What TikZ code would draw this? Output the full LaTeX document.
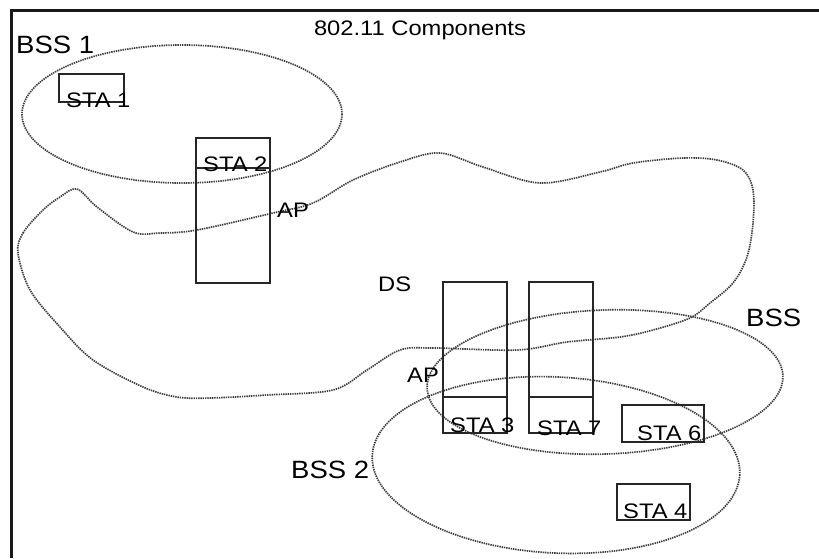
\documentclass[tikz,border=0pt]{standalone}
\usepackage{fontspec}
\setmainfont{Liberation Sans}
\newcommand\widetext[2]{\scalebox{#1}[1]{#2}}
\tikzset{
  frameline/.style={line width=3pt, black!90},
  stabox/.style={line width=1.4pt, black!85},
  dotline/.style={line width=1.7pt, black!75, dash pattern=on 1.4pt off 0.9pt},
  smalllbl/.style={inner sep=0pt, anchor=base west, font=\fontsize{21}{21}\selectfont},
  biglbl/.style={inner sep=0pt, anchor=base west, font=\fontsize{25}{25}\selectfont}
}
\begin{document}
\begin{tikzpicture}[x=1pt,y=-1pt]
\useasboundingbox (0,0) rectangle (819,558);
\fill[white] (0,0) rectangle (819,558);
% frame
\coordinate (fl) at (11.5,558);
\coordinate (ft) at (11.5,10);
\coordinate (fr) at (819,10);
\draw[frameline] (fl) -- (ft) -- (fr);
% DS cloud
\draw[dotline] plot[smooth cycle, tension=0.55] coordinates {
(18,253) (23,233) (43,210) (60,197) (77,189) (97,207) (133,232) (160,233)
(197,230) (273,213) (313,203) (353,180) (400,162) (440,153) (483,167)
(540,183) (600,172) (633,163) (683,158) (717,160) (743,170) (753,190)
(753,223) (747,257) (733,283) (710,303) (690,318) (653,330) (620,337)
(567,342) (517,350) (433,348) (400,350) (367,370) (333,390) (267,395)
(210,398) (177,397) (143,387) (93,360) (60,327) (30,290)};
% BSS ellipses
\draw[dotline] (182,114) ellipse [x radius=160, y radius=69];
\draw[dotline, rotate around={2:(605,382)}] (605,382) ellipse [x radius=178, y radius=72];
\draw[dotline, rotate around={-3:(556,465)}] (556,465) ellipse [x radius=184, y radius=88];
% boxes
\draw[stabox] (59,74) rectangle (124,102);
\draw[stabox] (196,138) rectangle (270,283);
\draw[stabox] (196,168) -- (270,168);
\draw[stabox] (443,282) rectangle (507,433);
\draw[stabox] (443,397) -- (507,397);
\draw[stabox] (529,282) rectangle (593,433);
\draw[stabox] (529,397) -- (593,397);
\draw[stabox] (622,405) rectangle (704,442);
\draw[stabox] (617,484) rectangle (690,520);
% labels
\node[smalllbl, anchor=base] (title) at (420,35) {\widetext{1.13}{802.11 Components}};
\node[biglbl] (bss1) at (16,53) {\widetext{1.1}{BSS 1}};
\node[biglbl] (bss) at (746,326) {\widetext{1.1}{BSS}};
\node[biglbl] (bss2) at (291,478) {\widetext{1.1}{BSS 2}};
\node[smalllbl] (sta1) at (66,107) {\widetext{1.13}{STA 1}};
\node[smalllbl] (sta2) at (203,171) {\widetext{1.13}{STA 2}};
\node[smalllbl] (ap1) at (277,217) {\widetext{1.13}{AP}};
\node[smalllbl] (ds) at (378,291) {\widetext{1.13}{DS}};
\node[smalllbl] (ap2) at (407,382) {\widetext{1.13}{AP}};
\node[smalllbl] (sta3) at (450,432) {\widetext{1.13}{STA 3}};
\node[smalllbl] (sta7) at (537,435) {\widetext{1.13}{STA 7}};
\node[smalllbl] (sta6) at (637,440) {\widetext{1.13}{STA 6}};
\node[smalllbl] (sta4) at (623,518) {\widetext{1.13}{STA 4}};
\end{tikzpicture}
\end{document}
